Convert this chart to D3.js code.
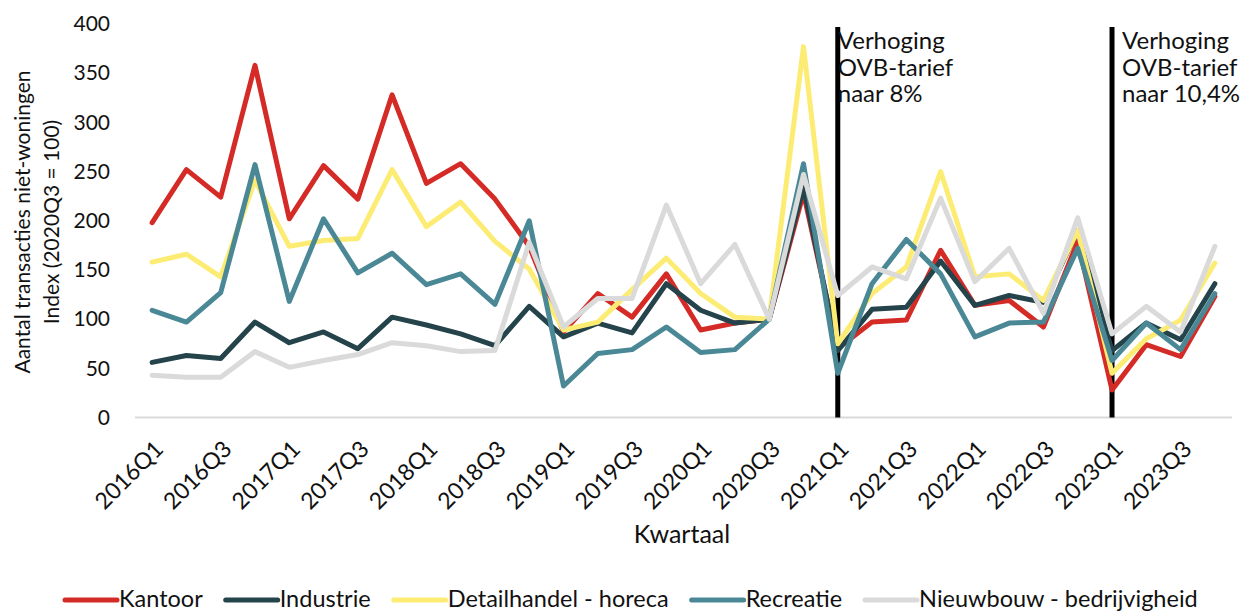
<!DOCTYPE html>
<html>
<head>
<meta charset="utf-8">
<script src="https://cdn.jsdelivr.net/npm/d3@7"></script>
<style>
	body { margin: 0; background: #fff; }
	svg { font-family: Lato, "Open Sans", sans-serif; }
</style>
</head>
<body>
<div id="chart"></div>
<script>
// quarters on the x axis
var quarters = [
	"2016Q1", "2016Q2", "2016Q3", "2016Q4", "2017Q1", "2017Q2", "2017Q3", "2017Q4",
	"2018Q1", "2018Q2", "2018Q3", "2018Q4", "2019Q1", "2019Q2", "2019Q3", "2019Q4",
	"2020Q1", "2020Q2", "2020Q3", "2020Q4", "2021Q1", "2021Q2", "2021Q3", "2021Q4",
	"2022Q1", "2022Q2", "2022Q3", "2022Q4", "2023Q1", "2023Q2", "2023Q3", "2023Q4"
];

// labelled ticks (every other quarter)
var tickLabels = [ "2016Q1", "2016Q3", "2017Q1", "2017Q3", "2018Q1", "2018Q3", "2019Q1", "2019Q3",
	"2020Q1", "2020Q3", "2021Q1", "2021Q3", "2022Q1", "2022Q3", "2023Q1", "2023Q3" ];

var yTicks = [ 0, 50, 100, 150, 200, 250, 300, 350, 400 ];

// index values (2020Q3 = 100)
var kantoor = [ 198, 252, 224, 358, 202, 256, 222, 328, 238, 258, 222, 174, 87, 126, 102, 146,
	89, 96, 100, 228, 70, 97, 99, 170, 114, 119, 92, 179, 28, 74, 62, 123 ];
var industrie = [ 56, 63, 60, 97, 76, 87, 70, 102, 94, 85, 73, 113, 82, 96, 86, 136,
	109, 96, 100, 234, 68, 110, 112, 159, 114, 124, 117, 190, 68, 96, 79, 136 ];
var detailhandel = [ 158, 166, 143, 241, 174, 180, 182, 252, 194, 219, 179, 151, 89, 97, 130, 162,
	126, 102, 100, 377, 75, 126, 153, 250, 143, 146, 119, 190, 45, 80, 99, 157 ];
var recreatie = [ 109, 97, 127, 257, 118, 202, 147, 167, 135, 146, 115, 200, 32, 65, 69, 92,
	66, 69, 100, 258, 45, 136, 181, 146, 82, 96, 97, 172, 58, 96, 69, 126 ];
var nieuwbouw = [ 43, 41, 41, 67, 51, 58, 64, 76, 73, 67, 68, 178, 92, 121, 121, 216,
	136, 176, 100, 247, 124, 153, 141, 223, 138, 172, 106, 203, 85, 113, 87, 174 ];

// annotations for the tax changes
var eventQuarters = [ "2021Q1", "2023Q1" ];
var eventTexts = [
	[ "Verhoging", "OVB-tarief", "naar 8%" ],
	[ "Verhoging", "OVB-tarief", "naar 10,4%" ]
];

// series table for drawing
var series = [
	{ name: "Kantoor", values: kantoor, color: "#d42b27" },
	{ name: "Industrie", values: industrie, color: "#24434a" },
	{ name: "Detailhandel - horeca", values: detailhandel, color: "#fdec74" },
	{ name: "Recreatie", values: recreatie, color: "#4a8896" },
	{ name: "Nieuwbouw - bedrijvigheid", values: nieuwbouw, color: "#dadada" }
];

var width = 1240,
	height = 612;

var svg = d3.select( "#chart" ).append( "svg" )
	.attr( "width", width )
	.attr( "height", height );

var x = d3.scalePoint()
	.domain( quarters )
	.range( [ 135, 1232 ] )
	.padding( 0.5 );

var y = d3.scaleLinear()
	.domain( [ 0, 400 ] )
	.range( [ 417.5, 24 ] );

// zero baseline
svg.append( "line" )
	.attr( "x1", 135 )
	.attr( "x2", 1232 )
	.attr( "y1", y( 0 ) )
	.attr( "y2", y( 0 ) )
	.attr( "stroke", "#d9d9d9" )
	.attr( "stroke-width", 2 );

// Y AXIS
var yAxis = svg.append( "g" )
	.attr( "transform", "translate(118,0)" )
	.call( d3.axisLeft( y ).tickValues( yTicks ).tickSize( 0 ).tickPadding( 8 ) );
yAxis.select( ".domain" ).remove();
yAxis.selectAll( "text" )
	.attr( "font-size", 21 )
	.attr( "font-family", "Lato, sans-serif" )
	.attr( "fill", "#111" );

// X AXIS
var xAxis = svg.append( "g" )
	.attr( "transform", "translate(0," + y( 0 ) + ")" )
	.call( d3.axisBottom( x ).tickValues( tickLabels ).tickSize( 0 ) );
xAxis.select( ".domain" ).remove();
xAxis.selectAll( "text" )
	.attr( "font-size", 23 )
	.attr( "font-family", "Lato, sans-serif" )
	.attr( "fill", "#111" )
	.attr( "text-anchor", "end" )
	.attr( "dy", null )
	.attr( "y", 0 )
	.attr( "transform", "translate(12,33) rotate(-45)" );

// axis titles
svg.append( "text" )
	.attr( "x", 682 )
	.attr( "y", 543 )
	.attr( "text-anchor", "middle" )
	.attr( "font-size", 25 )
	.attr( "fill", "#111" )
	.text( "Kwartaal" );

var yTitle = svg.append( "text" )
	.attr( "transform", "translate(0,222) rotate(-90)" )
	.attr( "text-anchor", "middle" )
	.attr( "font-size", 21 )
	.attr( "fill", "#111" );
yTitle.append( "tspan" ).attr( "x", 0 ).attr( "y", 30 ).text( "Aantal transacties niet-woningen" );
yTitle.append( "tspan" ).attr( "x", 0 ).attr( "y", 59 ).text( "Index (2020Q3 = 100)" );

// vertical event lines
svg.selectAll( ".event" )
	.data( eventQuarters )
	.enter().append( "line" )
	.attr( "class", "event" )
	.attr( "x1", function ( d ) { return x( d ); } )
	.attr( "x2", function ( d ) { return x( d ); } )
	.attr( "y1", 27 )
	.attr( "y2", y( 0 ) )
	.attr( "stroke", "#000" )
	.attr( "stroke-width", 5 );

// series lines
var line = d3.line()
	.x( function ( d, i ) { return x( quarters[ i ] ); } )
	.y( function ( d ) { return y( d ); } );

svg.selectAll( ".series" )
	.data( series )
	.enter().append( "path" )
	.attr( "class", "series" )
	.attr( "d", function ( d ) { return line( d.values ); } )
	.attr( "fill", "none" )
	.attr( "stroke", function ( d ) { return d.color; } )
	.attr( "stroke-width", 5 )
	.attr( "stroke-linejoin", "round" )
	.attr( "stroke-linecap", "round" );

// annotation texts
var offsets = [ 0, 10 ];
eventQuarters.forEach( function ( q, k ) {
	var t = svg.append( "text" )
		.attr( "font-size", 24 )
		.attr( "fill", "#111" );
	eventTexts[ k ].forEach( function ( s, j ) {
		t.append( "tspan" )
			.attr( "x", x( q ) + offsets[ k ] )
			.attr( "y", 49 + j * 26.5 )
			.text( s );
	} );
} );

// legend
var lx = 65;
series.forEach( function ( s ) {
	svg.append( "line" )
		.attr( "x1", lx )
		.attr( "x2", lx + 52 )
		.attr( "y1", 600 )
		.attr( "y2", 600 )
		.attr( "stroke", s.color )
		.attr( "stroke-width", 5 )
		.attr( "stroke-linecap", "round" );
	var t = svg.append( "text" )
		.attr( "x", lx + 54 )
		.attr( "y", 607 )
		.attr( "font-size", 23.5 )
		.attr( "fill", "#111" )
		.text( s.name );
	lx += 54 + t.node().getComputedTextLength() + 23;
} );
</script>
</body>
</html>
